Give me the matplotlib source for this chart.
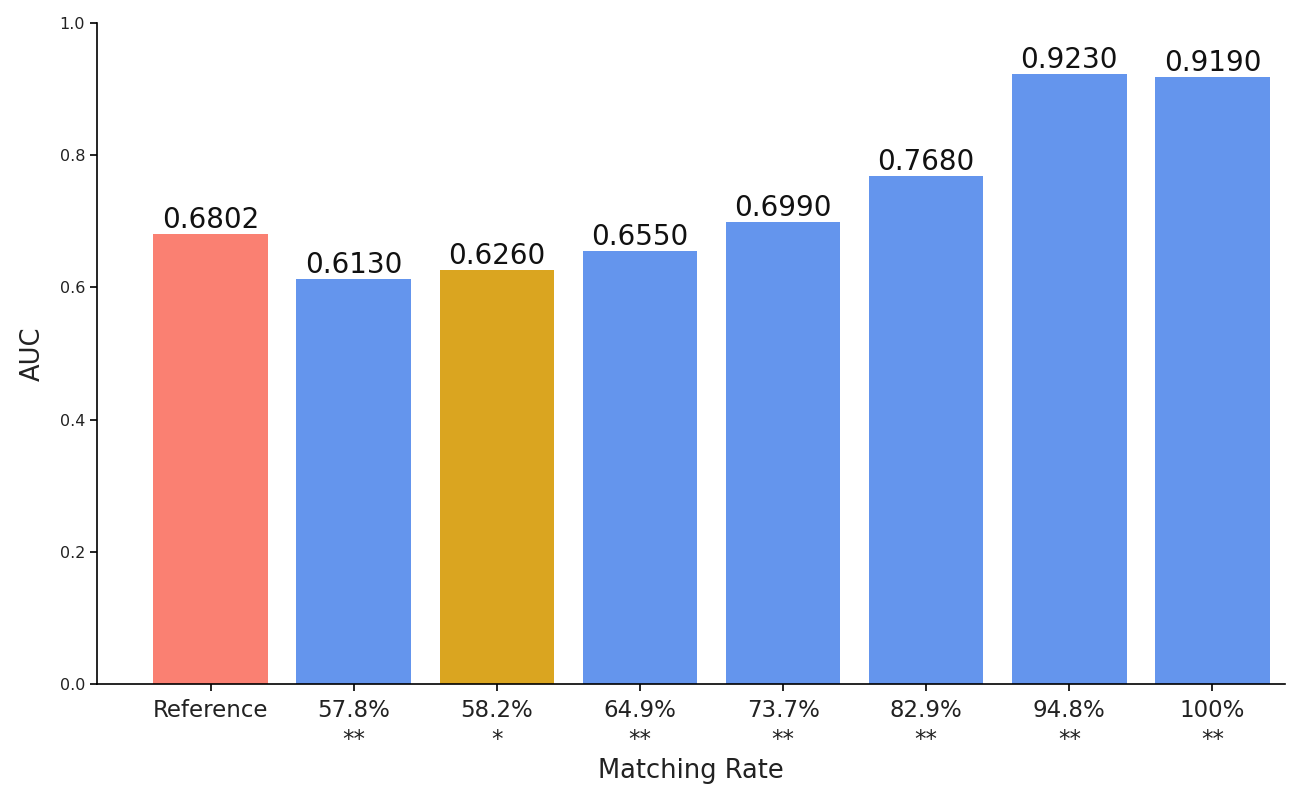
import matplotlib.pyplot as plt

# Data
labels = ['Reference', '57.8%\n**', '58.2%\n*', '64.9%\n**', '73.7%\n**',
          '82.9%\n**', '94.8%\n**', '100%\n**']
auc = [0.6802, 0.6130, 0.6260, 0.6550, 0.6990, 0.7680, 0.9230, 0.9190]
colors = ['salmon', 'cornflowerblue', 'goldenrod', 'cornflowerblue',
          'cornflowerblue', 'cornflowerblue', 'cornflowerblue', 'cornflowerblue']

fig = plt.figure(figsize=(13.15, 7.95), dpi=100)
ax = fig.add_axes([0.0738, 0.1396, 0.9034, 0.8314])

x = list(range(len(labels)))
bars = ax.bar(x, auc, width=0.8, color=colors)

for b, v in zip(bars, auc):
    ax.text(b.get_x() + b.get_width() / 2, v, f'{v:.4f}',
            ha='center', va='bottom', fontsize=20, color='#111111')

ax.set_xticks(x)
ax.set_xticklabels(labels, fontsize=16.5, linespacing=1.35, color='#222222')
ax.set_xlim(-0.793, 7.507)
ax.set_ylim(0, 1.0)
ax.set_yticks([0.0, 0.2, 0.4, 0.6, 0.8, 1.0])
ax.tick_params(axis='y', labelsize=11.5, width=1.2, length=5, labelcolor='#222222')
ax.tick_params(axis='x', width=1.2, length=5, pad=5.5)

ax.set_xlabel('Matching Rate', fontsize=18.5, labelpad=5, color='#222222')
ax.set_ylabel('AUC', fontsize=18.5, labelpad=10, color='#222222')

ax.spines['top'].set_visible(False)
ax.spines['right'].set_visible(False)
ax.spines['left'].set_linewidth(1.2)
ax.spines['bottom'].set_linewidth(1.2)

plt.savefig('out.png', dpi=100)
plt.close()
